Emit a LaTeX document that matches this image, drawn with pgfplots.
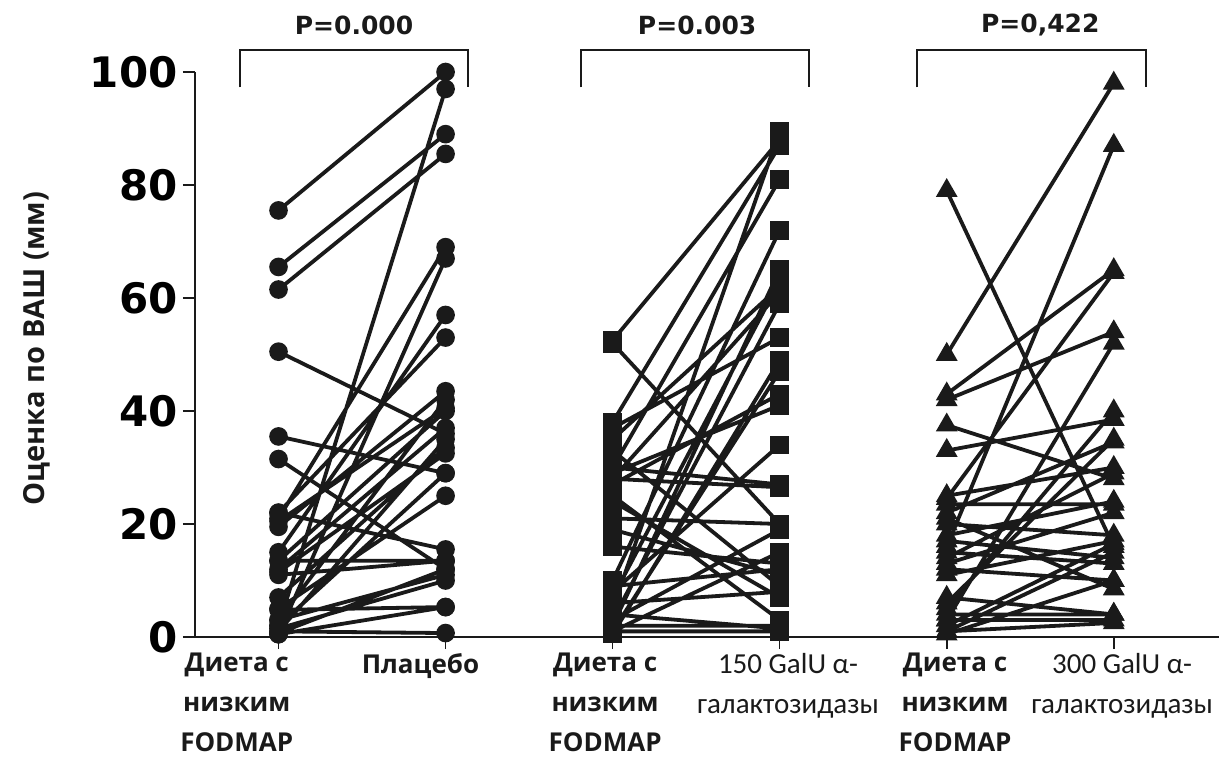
\documentclass[border=0pt]{standalone}
\usepackage{pgfplots}
\pgfplotsset{compat=1.18}
\usepackage{fontspec}
\setmainfont{Open Sans}
\newfontfamily\dvs{DejaVu Sans}
\newfontfamily\carl{Carlito}
\definecolor{ink}{HTML}{1A1A1A}
\begin{document}
\begin{tikzpicture}
\begin{axis}[
 scale only axis, width=512pt, height=282.5pt,
 xmin=0.5, xmax=6.63, ymin=0, ymax=100,
 axis x line=bottom, axis y line=left,
 axis line style={-, line width=1pt, color=ink},
 xtick={1,2,3,4,5,6}, xticklabels={},
 ytick={0,20,40,60,80,100}, yticklabels={0,20,40,60,80,100},
 yticklabel style={font=\dvs\bfseries\fontsize{21}{21}\selectfont, inner xsep=2.5pt},
 tick align=outside, major tick length=6pt, tick style={line width=0.8pt, color=ink},
 clip=false, unbounded coords=jump,
 pair/.style={line width=1.9pt, color=ink, mark options={solid, fill=ink, draw=ink}},
]
% Group 1: low FODMAP (x=1) vs placebo (x=2)
\addplot[pair, mark=*, mark size=3.7pt] coordinates {
(1,75.5)(2,100)(1,nan) (1,65.5)(2,89)(1,nan) (1,61.5)(2,85.5)(1,nan) (1,50.5)(2,36)(1,nan)
(1,35.5)(2,29)(1,nan) (1,31.5)(2,12)(1,nan) (1,2)(2,97)(1,nan) (1,21)(2,69)(1,nan)
(1,0.5)(2,67)(1,nan) (1,15)(2,57)(1,nan) (1,22)(2,53)(1,nan) (1,19.5)(2,43.5)(1,nan)
(1,13.5)(2,40)(1,nan) (1,3)(2,42)(1,nan) (1,12)(2,37)(1,nan) (1,1)(2,35)(1,nan)
(1,7)(2,33.5)(1,nan) (1,5)(2,25)(1,nan) (1,11)(2,13.5)(1,nan) (1,13.5)(2,13.5)(1,nan)
(1,22)(2,15.5)(1,nan) (1,3)(2,11)(1,nan) (1,1.5)(2,10)(1,nan) (1,0.5)(2,5.3)(1,nan)
(1,4.8)(2,5.3)(1,nan) (1,1)(2,0.7)(1,nan) (1,2)(2,29)(1,nan) (1,11.5)(2,32.5)(1,nan)
(1,20.5)(2,40.5)(1,nan) (1,0.7)(2,12)
};
% Group 2: low FODMAP (x=3) vs 150 GalU (x=4)
\addplot[pair, mark=square*, mark size=3.7pt] coordinates {
(3,52.5)(4,88)(3,nan) (3,52)(4,20)(3,nan) (3,38)(4,87)(3,nan) (3,5)(4,89.5)(3,nan)
(3,30)(4,81)(3,nan) (3,10)(4,72)(3,nan) (3,2)(4,65)(3,nan) (3,7)(4,63)(3,nan)
(3,28)(4,61)(3,nan) (3,3)(4,59)(3,nan) (3,37)(4,53)(3,nan) (3,0.5)(4,49)(3,nan)
(3,1)(4,47)(3,nan) (3,27)(4,43)(3,nan) (3,29)(4,41)(3,nan) (3,8)(4,34)(3,nan)
(3,30)(4,27)(3,nan) (3,28)(4,26.5)(3,nan) (3,21)(4,20)(3,nan) (3,16)(4,13)(3,nan)
(3,3)(4,19)(3,nan) (3,33)(4,9)(3,nan) (3,19)(4,11)(3,nan) (3,1)(4,15)(3,nan)
(3,6)(4,8)(3,nan) (3,2)(4,2)(3,nan) (3,1)(4,1)(3,nan) (3,9)(4,12)(3,nan)
(3,4)(4,1.5)(3,nan) (3,24)(4,7)(3,nan) (3,35)(4,62)(3,nan) (3,25)(4,3)
};
% Group 3: low FODMAP (x=5) vs 300 GalU (x=6)
\addplot[pair, mark=triangle*, mark size=4.4pt] coordinates {
(5,79)(6,16)(5,nan) (5,50)(6,98)(5,nan) (5,16)(6,87)(5,nan) (5,43)(6,65)(5,nan)
(5,24.5)(6,64.5)(5,nan) (5,42)(6,54)(5,nan) (5,3)(6,52)(5,nan) (5,37.5)(6,28)(5,nan)
(5,33)(6,38.5)(5,nan) (5,22)(6,34.5)(5,nan) (5,25)(6,30)(5,nan) (5,18)(6,24)(5,nan)
(5,13)(6,22)(5,nan) (5,20)(6,18)(5,nan) (5,14)(6,29)(5,nan) (5,5)(6,40)(5,nan)
(5,2)(6,16.5)(5,nan) (5,1)(6,15)(5,nan) (5,12)(6,10)(5,nan) (5,21)(6,8.5)(5,nan)
(5,4)(6,4)(5,nan) (5,3)(6,3)(5,nan) (5,1)(6,2.5)(5,nan) (5,17)(6,14)(5,nan)
(5,11)(6,17)(5,nan) (5,7)(6,4)(5,nan) (5,0.5)(6,10)(5,nan) (5,23.5)(6,23.5)(5,nan)
(5,15)(6,13)(5,nan) (5,6)(6,35)
};
% brackets and P values
\draw[line width=1pt, ink] (axis cs:0.77,97.3) -- (axis cs:0.77,103.9) -- (axis cs:2.135,103.9) -- (axis cs:2.135,97.3);
\draw[line width=1pt, ink] (axis cs:2.81,97.3) -- (axis cs:2.81,103.9) -- (axis cs:4.177,103.9) -- (axis cs:4.177,97.3);
\draw[line width=1pt, ink] (axis cs:4.823,97.3) -- (axis cs:4.823,103.9) -- (axis cs:6.195,103.9) -- (axis cs:6.195,97.3);
\node[font=\dvs\bfseries\fontsize{12.5}{12.5}\selectfont, text=ink] at (axis cs:1.452,108.3) {P=0.000};
\node[font=\dvs\bfseries\fontsize{12.5}{12.5}\selectfont, text=ink] at (axis cs:3.506,108.3) {P=0.003};
\node[font=\dvs\bfseries\fontsize{12.5}{12.5}\selectfont, text=ink] at (axis cs:5.56,108.3) {P=0,422};
% y label
\node[rotate=90, font=\bfseries\fontsize{14.5}{14.5}\selectfont, text=ink] at ([xshift=-79pt]rel axis cs:0,0.51) {Оценка по ВАШ (мм)};
% category labels
\node[anchor=north, align=center, inner sep=0pt, font=\bfseries\fontsize{13}{20}\selectfont, text=ink] at ([yshift=-8pt]axis cs:0.75,0) {Диета с\\низким\\FODMAP};
\node[anchor=north, align=center, inner sep=0pt, font=\bfseries\fontsize{13}{20}\selectfont, text=ink] at ([yshift=-8pt]axis cs:1.85,0) {Плацебо};
\node[anchor=north, align=center, inner sep=0pt, font=\bfseries\fontsize{13}{20}\selectfont, text=ink] at ([yshift=-8pt]axis cs:2.955,0) {Диета с\\низким\\FODMAP};
\node[anchor=north, align=center, inner sep=0pt, font=\carl\fontsize{14.5}{20}\selectfont, text=ink] at ([yshift=-8pt]axis cs:4.05,0) {150 GalU α-\\галактозидазы};
\node[anchor=north, align=center, inner sep=0pt, font=\bfseries\fontsize{13}{20}\selectfont, text=ink] at ([yshift=-8pt]axis cs:5.05,0) {Диета с\\низким\\FODMAP};
\node[anchor=north, align=center, inner sep=0pt, font=\carl\fontsize{14.5}{20}\selectfont, text=ink] at ([yshift=-8pt]axis cs:6.05,0) {300 GalU α-\\галактозидазы};
\end{axis}
\pgfresetboundingbox
\path (-97.5pt,-59.5pt) rectangle (512pt,318.5pt);
\end{tikzpicture}
\end{document}
